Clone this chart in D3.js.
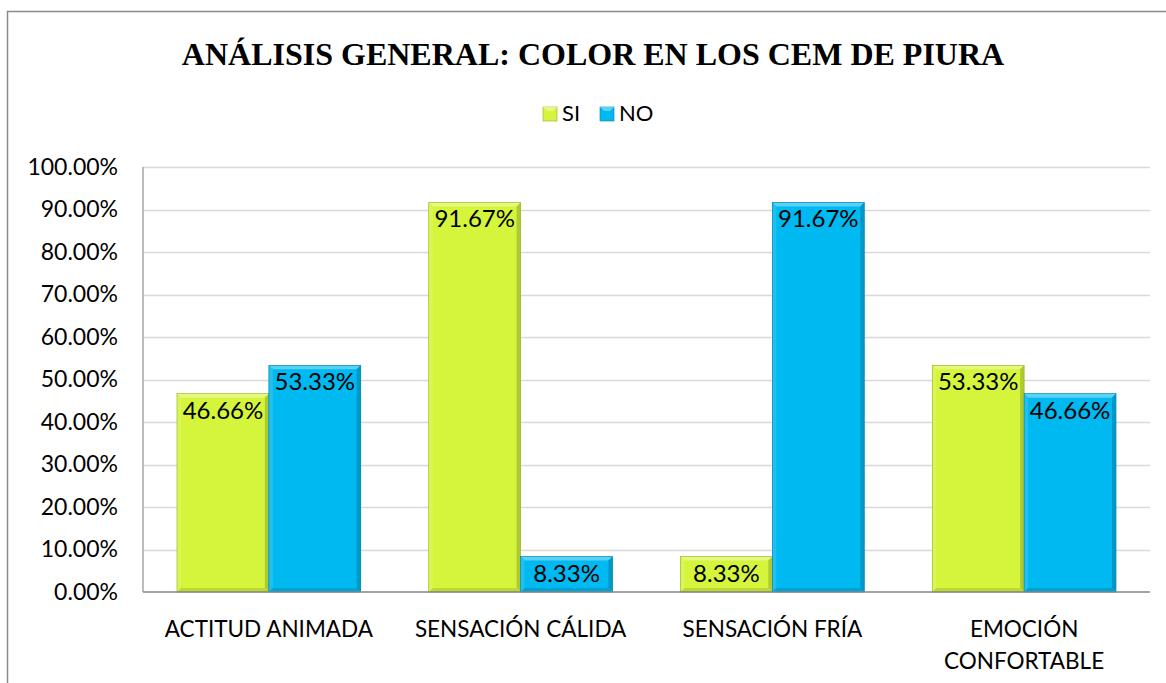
<!DOCTYPE html>
<html><head><meta charset="utf-8">
<script src="https://cdn.jsdelivr.net/npm/d3@7"></script>
<style>body{margin:0;background:#fff}svg{display:block}</style>
</head><body>
<script>
const categories = ["ACTITUD ANIMADA", "SENSACIÓN CÁLIDA", "SENSACIÓN FRÍA", "EMOCIÓN CONFORTABLE"];
const seriesNames = ["SI", "NO"];
const siValues = [46.66, 91.67, 8.33, 53.33];
const noValues = [53.33, 8.33, 91.67, 46.66];
const yTicks = [0, 10, 20, 30, 40, 50, 60, 70, 80, 90, 100];
const title = "ANÁLISIS GENERAL: COLOR EN LOS CEM DE PIURA";
const colors = {SI: "#d4f53c", NO: "#00b9f0"};

const W = 1166, H = 683;
const svg = d3.select("body").append("svg").attr("width", W).attr("height", H);
const font = "Lato, Open Sans, sans-serif";

// chart border
svg.append("path").attr("d", `M7.5,${H} V11.5 H${W}`).attr("fill","none").attr("stroke","#8a8a8a").attr("stroke-width",1.5);

svg.append("text").attr("x", 593).attr("y", 65).attr("text-anchor","middle")
  .attr("font-family","Liberation Serif, Times New Roman, serif").attr("font-weight","bold")
  .attr("font-size", 32).text(title);

const plot = {l:143, r:1150, t:167, b:592};
const x0 = d3.scaleBand().domain(categories).range([plot.l, plot.r]).paddingInner(0.27).paddingOuter(0.135);
const x1 = d3.scaleBand().domain(seriesNames).range([0, x0.bandwidth()]);
const y = d3.scaleLinear().domain([0,100]).range([plot.b, plot.t]);

// grid
svg.append("g").selectAll("line").data(yTicks.filter(d=>d>0)).join("line")
  .attr("x1", plot.l).attr("x2", plot.r).attr("y1", d=>Math.round(y(d))+0.5).attr("y2", d=>Math.round(y(d))+0.5)
  .attr("stroke","#d9d9d9").attr("stroke-width",1.5);
// plot borders
svg.append("line").attr("x1",plot.l).attr("x2",plot.l).attr("y1",plot.t).attr("y2",plot.b).attr("stroke","#a6a6a6").attr("stroke-width",1.5);

// y axis labels
const yAxis = d3.axisLeft(y).tickValues(yTicks).tickFormat(d=>d3.format(".2f")(d)+"%").tickSize(0).tickPadding(25);
const ya = svg.append("g").attr("transform",`translate(${plot.l},0)`).call(yAxis);
ya.select(".domain").remove();
ya.selectAll("text").attr("font-family",font).attr("font-size",23).attr("fill","#000");

const data = categories.map((c,i)=>({cat:c, vals:[{s:"SI",v:siValues[i]},{s:"NO",v:noValues[i]}]}));

function shade(c, k){ return k>0 ? d3.interpolateRgb(c,"#fff")(k) : d3.interpolateRgb(c,"#000")(-k); }

const g = svg.append("g");
data.forEach(d=>{
  d.vals.forEach(v=>{
    const bx = x0(d.cat)+x1(v.s), bw = x1.bandwidth(), by = y(v.v), bh = y(0)-y(v.v);
    const c = colors[v.s], b = 4;
    const bg = g.append("g");
    bg.append("rect").attr("x",bx).attr("y",by).attr("width",bw).attr("height",bh).attr("fill",c);
    const x2 = bx+bw, y2 = by+bh;
    bg.append("polygon").attr("points",`${bx},${by} ${x2},${by} ${x2-b},${by+b} ${bx+b},${by+b}`).attr("fill",shade(c,0.35));
    bg.append("polygon").attr("points",`${bx},${by} ${bx+b},${by+b} ${bx+b},${y2-b} ${bx},${y2}`).attr("fill",shade(c,0.12));
    bg.append("polygon").attr("points",`${x2},${by} ${x2},${y2} ${x2-b},${y2-b} ${x2-b},${by+b}`).attr("fill",shade(c,-0.18));
    bg.append("polygon").attr("points",`${bx},${y2} ${x2},${y2} ${x2-b},${y2-b} ${bx+b},${y2-b}`).attr("fill",shade(c,-0.12));
    bg.append("rect").attr("x",bx).attr("y",by).attr("width",bw).attr("height",bh).attr("fill","none").attr("stroke",shade(c,-0.3)).attr("stroke-width",0.6);
    g.append("text").attr("x",bx+bw/2).attr("y",by+25).attr("text-anchor","middle")
      .attr("font-family",font).attr("font-size",24).attr("fill","#000").text(d3.format(".2f")(v.v)+"%");
  });
});

// baseline
svg.append("line").attr("x1",plot.l).attr("x2",plot.r).attr("y1",plot.b).attr("y2",plot.b).attr("stroke","#868686").attr("stroke-width",1.5);

// x labels
const xl = svg.append("g");
categories.forEach((c,i)=>{
  const cx = x0(c)+x0.bandwidth()/2;
  const lines = i===3 ? ["EMOCIÓN","CONFORTABLE"] : [c];
  lines.forEach((t,j)=>{
    xl.append("text").attr("x",cx).attr("y",637+j*32).attr("text-anchor","middle")
      .attr("font-family",font).attr("font-size",22.5).attr("fill","#000").text(t);
  });
});

// legend
const leg = svg.append("g");
[["SI",543],["NO",600]].forEach(([s,lx])=>{
  const c = colors[s];
  leg.append("rect").attr("x",lx).attr("y",107).attr("width",14).attr("height",14).attr("fill",c).attr("stroke",shade(c,-0.3)).attr("stroke-width",0.6);
  leg.append("polygon").attr("points",`${lx},107 ${lx+14},107 ${lx+10},111 ${lx+4},111`).attr("fill",shade(c,0.35));
  leg.append("text").attr("x",lx+19).attr("y",121).attr("font-family",font).attr("font-size",22).attr("fill","#000").text(s);
});
</script>
</body></html>
